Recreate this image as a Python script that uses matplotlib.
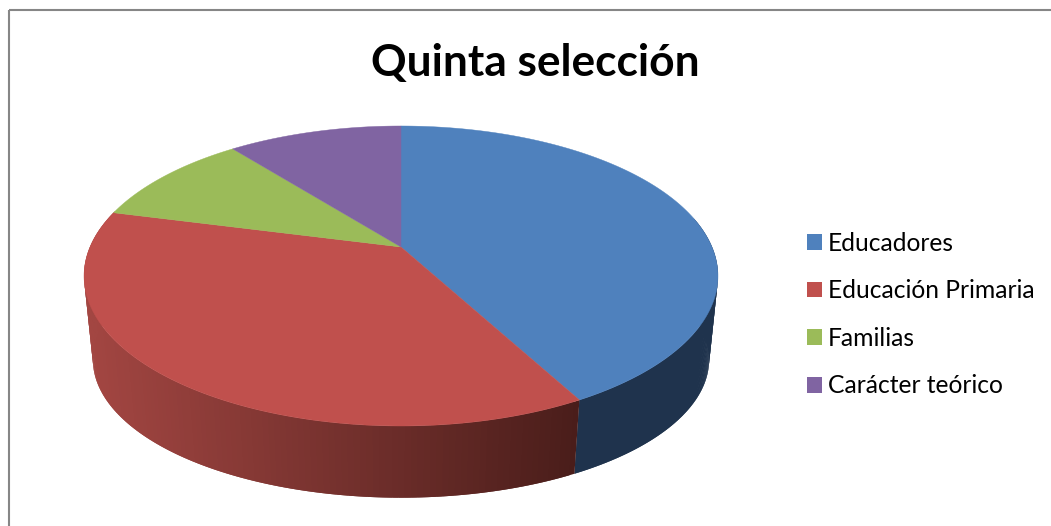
import matplotlib
matplotlib.use("Agg")
import matplotlib.pyplot as plt
from matplotlib.patches import Patch, Rectangle
import numpy as np

categories = ["Educadores", "Educación Primaria", "Familias", "Carácter teórico"]
# shares as they appear on the drawn pie
values = [42.1, 36.9, 10.3, 10.7]
colors = ["#4F81BD", "#C0504D", "#9BBB59", "#8064A2"]
title = "Quinta selección"

plt.rcParams["font.family"] = ["Lato", "DejaVu Sans"]

# pie geometry in pixels, the top face is a circle seen in perspective
cx = 401
k = 0.1933


def project(theta, apex_y, sx, sy):
	t = np.radians(theta)
	w = 1 + k * np.cos(t)
	return cx + 311 * sx * np.sin(t) / w, apex_y - 144.4 * sy * np.cos(t) / w


def top(theta):
	return project(theta, 247, 1, 1)


def base(theta):
	return project(theta, 333, 0.972, 0.92)


def side(a, b, col_func):
	# each strip runs into the next one so no seams show
	steps = np.linspace(a, b, 140)
	d = steps[1] - steps[0]
	for t0 in steps[:-1]:
		t1 = min(t0 + 2 * d, b)
		arc = np.linspace(t0, t1, 5)
		xt, yt = top(arc)
		xb, yb = base(arc)
		c = col_func(xt.mean())
		ax.fill(np.r_[xt, xb[::-1]], np.r_[yt, yb[::-1]], color=c, lw=0, zorder=2)


def red_shade(x):
	f = np.clip((x - 84) / (578 - 84), 0, 1)
	c0 = np.array([163, 70, 66])
	c1 = np.array([73, 29, 26])
	return (c0 + (c1 - c0) * f) / 255


fig = plt.figure(figsize=(10.51, 5.26), dpi=100)
ax = fig.add_axes([0, 0, 1, 1])
ax.set_xlim(0, 1051)
ax.set_ylim(526, 0)
ax.axis("off")

ax.add_patch(Rectangle((9, 10), 1100, 600, fill=False, ec="#868686", lw=1.5))

edges = np.cumsum([0] + values) / sum(values) * 360

side(78, edges[1], lambda x: "#1F334D")
side(edges[1], 285, red_shade)

for i in range(len(values)):
	arc = np.linspace(edges[i], edges[i + 1], 200)
	xs, ys = top(arc)
	ax.fill(np.r_[cx, xs], np.r_[247, ys], color=colors[i], lw=0.3, zorder=3)

ax.text(535, 63, title, fontsize=31.9, fontweight="bold", color="black", ha="center", va="center")

handles = [Patch(color=c, lw=0) for c in colors]
ax.legend(handles, categories, loc="center left", bbox_to_anchor=(807 / 1051, 1 - 314.5 / 526),
	frameon=False, fontsize=17.75, handlelength=0.62, handleheight=0.62,
	handletextpad=0.24, labelspacing=1.0, borderpad=0, borderaxespad=0, labelcolor="black")

fig.savefig("out.png", dpi=100)
